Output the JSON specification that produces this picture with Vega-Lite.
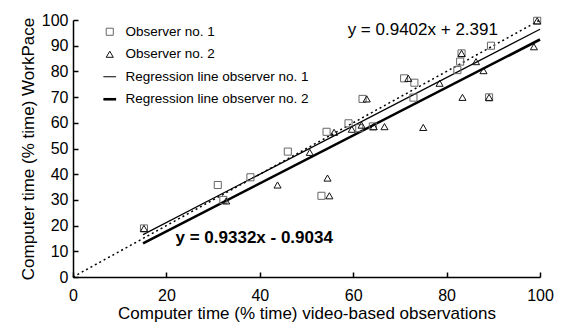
{
  "$schema": "https://vega.github.io/schema/vega-lite/v6.json",
  "width": 467,
  "height": 257,
  "autosize": "none",
  "padding": {"left": 73, "top": 20, "right": 24, "bottom": 49},
  "background": "white",
  "config": {
    "view": {"stroke": null},
    "font": "Liberation Sans",
    "axis": {
      "grid": false,
      "domainColor": "black",
      "domainWidth": 1.5,
      "tickColor": "black",
      "tickWidth": 1.5,
      "tickSize": -5,
      "labelOverlap": false,
      "labelFlush": false,
      "labelFont": "Liberation Sans",
      "labelFontSize": 16,
      "labelColor": "black",
      "titleFont": "Liberation Sans",
      "titleFontSize": 17,
      "titleFontWeight": "normal",
      "titleColor": "black"
    },
    "legend": {
      "title": null, "orient": "none", "legendX": 30, "legendY": 5,
      "labelFont": "Liberation Sans", "labelFontSize": 13.5, "labelColor": "black", "labelLimit": 0,
      "labelOffset": 9, "rowPadding": 7.5, "symbolSize": 50, "padding": 0
    }
  },
  "datasets": {
    "obs": [
      {"x": 15.2, "y": 18.9, "series": "Observer no. 1"},
      {"x": 31.0, "y": 35.8, "series": "Observer no. 1"},
      {"x": 32.2, "y": 30.0, "series": "Observer no. 1"},
      {"x": 38.0, "y": 38.8, "series": "Observer no. 1"},
      {"x": 46.0, "y": 48.8, "series": "Observer no. 1"},
      {"x": 53.2, "y": 31.6, "series": "Observer no. 1"},
      {"x": 54.3, "y": 56.5, "series": "Observer no. 1"},
      {"x": 59.0, "y": 59.8, "series": "Observer no. 1"},
      {"x": 61.3, "y": 57.9, "series": "Observer no. 1"},
      {"x": 62.0, "y": 69.3, "series": "Observer no. 1"},
      {"x": 64.2, "y": 58.6, "series": "Observer no. 1"},
      {"x": 70.9, "y": 77.3, "series": "Observer no. 1"},
      {"x": 73.1, "y": 75.6, "series": "Observer no. 1"},
      {"x": 72.9, "y": 69.8, "series": "Observer no. 1"},
      {"x": 82.3, "y": 80.5, "series": "Observer no. 1"},
      {"x": 82.9, "y": 83.8, "series": "Observer no. 1"},
      {"x": 83.2, "y": 87.0, "series": "Observer no. 1"},
      {"x": 89.5, "y": 90.0, "series": "Observer no. 1"},
      {"x": 89.1, "y": 69.9, "series": "Observer no. 1"},
      {"x": 99.4, "y": 99.7, "series": "Observer no. 1"},
      {"x": 15.2, "y": 18.9, "series": "Observer no. 2"},
      {"x": 32.8, "y": 29.6, "series": "Observer no. 2"},
      {"x": 43.8, "y": 35.8, "series": "Observer no. 2"},
      {"x": 50.7, "y": 48.5, "series": "Observer no. 2"},
      {"x": 54.5, "y": 38.5, "series": "Observer no. 2"},
      {"x": 54.9, "y": 31.6, "series": "Observer no. 2"},
      {"x": 55.9, "y": 56.3, "series": "Observer no. 2"},
      {"x": 59.7, "y": 57.5, "series": "Observer no. 2"},
      {"x": 61.8, "y": 59.1, "series": "Observer no. 2"},
      {"x": 62.9, "y": 69.3, "series": "Observer no. 2"},
      {"x": 64.4, "y": 58.5, "series": "Observer no. 2"},
      {"x": 66.7, "y": 58.5, "series": "Observer no. 2"},
      {"x": 71.8, "y": 77.3, "series": "Observer no. 2"},
      {"x": 75.0, "y": 58.2, "series": "Observer no. 2"},
      {"x": 78.5, "y": 75.4, "series": "Observer no. 2"},
      {"x": 83.4, "y": 69.9, "series": "Observer no. 2"},
      {"x": 83.2, "y": 87.0, "series": "Observer no. 2"},
      {"x": 86.3, "y": 83.8, "series": "Observer no. 2"},
      {"x": 87.9, "y": 80.3, "series": "Observer no. 2"},
      {"x": 89.1, "y": 69.9, "series": "Observer no. 2"},
      {"x": 98.7, "y": 89.6, "series": "Observer no. 2"},
      {"x": 99.4, "y": 99.7, "series": "Observer no. 2"}
    ],
    "lines": [
      {"x": 0, "y": 0, "line": "identity"},
      {"x": 100, "y": 100, "line": "identity"},
      {"x": 15, "y": 16.494, "line": "Regression line observer no. 1"},
      {"x": 100, "y": 96.411, "line": "Regression line observer no. 1"},
      {"x": 15, "y": 13.095, "line": "Regression line observer no. 2"},
      {"x": 100, "y": 92.417, "line": "Regression line observer no. 2"}
    ],
    "labels": [
      {"x": 74.9, "y": 96.3, "label": "y = 0.9402x + 2.391", "eq": "obs1"},
      {"x": 38.8, "y": 15.0, "label": "y = 0.9332x - 0.9034", "eq": "obs2"}
    ]
  },
  "encoding": {
    "x": {"field": "x", "type": "quantitative", "scale": {"domain": [0, 100], "nice": false},
      "axis": {"values": [0, 20, 40, 60, 80, 100], "labelOverlap": false, "labelFlush": false, "title": "Computer time (% time) video-based observations", "labelPadding": 15, "titleY": 36, "titleBaseline": "middle"}},
    "y": {"field": "y", "type": "quantitative", "scale": {"domain": [0, 100], "nice": false},
      "axis": {"values": [0, 10, 20, 30, 40, 50, 60, 70, 80, 90, 100], "labelOverlap": false, "labelFlush": false, "title": "Computer time (% time) WorkPace", "labelPadding": 10, "titleX": -45, "titleY": 128.5, "titleAngle": -90, "titleBaseline": "middle", "titleAlign": "center"}}
  },
  "layer": [
    {
      "data": {"name": "lines"},
      "transform": [{"filter": "datum.line === 'identity'"}],
      "mark": {"type": "line", "color": "black", "strokeWidth": 1.5, "strokeDash": [2, 3]}
    },
    {
      "data": {"name": "lines"},
      "transform": [{"filter": "datum.line === 'Regression line observer no. 1'"}],
      "mark": {"type": "line", "color": "black", "strokeWidth": 1.2}
    },
    {
      "data": {"name": "lines"},
      "transform": [{"filter": "datum.line === 'Regression line observer no. 2'"}],
      "mark": {"type": "line", "color": "black", "strokeWidth": 2.6}
    },
    {
      "data": {"name": "obs"},
      "mark": {"type": "point", "filled": false, "size": 50, "opacity": 1},
      "encoding": {
        "shape": {"field": "series", "type": "nominal",
          "scale": {"domain": ["Observer no. 1", "Observer no. 2", "Regression line observer no. 1", "Regression line observer no. 2"],
                    "range": ["square", "triangle-up", "M-1.8,0H1.8", "M-1.8,0H1.8"]}},
        "stroke": {"field": "series", "type": "nominal",
          "scale": {"domain": ["Observer no. 1", "Observer no. 2", "Regression line observer no. 1", "Regression line observer no. 2"],
                    "range": ["#666666", "#111111", "#000000", "#000000"]}},
        "strokeWidth": {"field": "series", "type": "nominal",
          "scale": {"type": "ordinal", "domain": ["Observer no. 1", "Observer no. 2", "Regression line observer no. 1", "Regression line observer no. 2"],
                    "range": [1, 1, 1, 2.6]}}
      }
    },
    {
      "data": {"name": "labels"},
      "transform": [{"filter": "datum.eq === 'obs1'"}],
      "mark": {"type": "text", "font": "Liberation Sans", "fontSize": 17, "color": "black", "align": "center", "baseline": "middle"},
      "encoding": {"text": {"field": "label"}}
    },
    {
      "data": {"name": "labels"},
      "transform": [{"filter": "datum.eq === 'obs2'"}],
      "mark": {"type": "text", "font": "Liberation Sans", "fontSize": 17, "fontWeight": "bold", "color": "black", "align": "center", "baseline": "middle"},
      "encoding": {"text": {"field": "label"}}
    }
  ]
}
